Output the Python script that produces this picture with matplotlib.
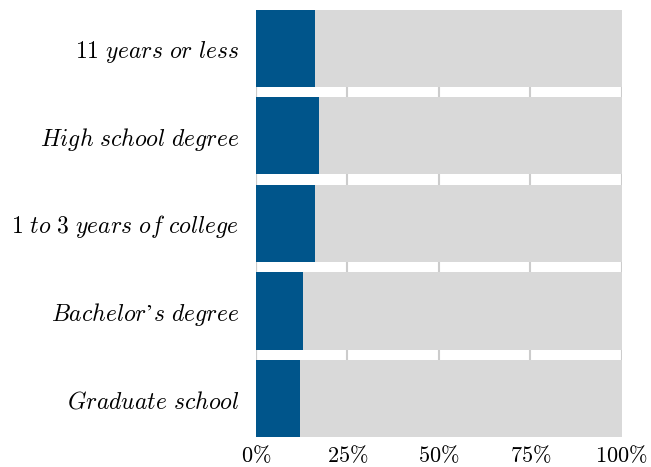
import matplotlib
matplotlib.use("Agg")
import matplotlib.pyplot as plt
from matplotlib.ticker import FuncFormatter

plt.rcParams['mathtext.fontset'] = 'cm'

# nivel educativo y porcentaje (parte azul)
categories = ["11 years or less", "High school degree", "1 to 3 years of college",
              "Bachelor’s degree", "Graduate school"]
values = [16.1, 17.2, 16.1, 12.8, 12.0]
total = [100, 100, 100, 100, 100]
xticks = [0, 25, 50, 75, 100]


def as_italic(s):
    # texto en cursiva estilo LaTeX
    s = s.replace(" ", r"\ ")
    return r"$\mathit{" + s + "}$"


fig = plt.figure(figsize=(6.51, 4.67), dpi=100)
ax = fig.add_axes([0.393, 0.064, 0.562, 0.915])

ypos = list(range(len(categories)))[::-1]
ax.barh(ypos, total, height=0.88, color="#d9d9d9", zorder=2)
ax.barh(ypos, values, height=0.88, color="#00558b", zorder=3)

ax.set_xlim(0, 100)
ax.set_ylim(-0.44, 4.44)
ax.set_xticks(xticks)
ax.xaxis.set_major_formatter(FuncFormatter(lambda v, p: r"$\mathit{%d\%%}$" % v))
ax.set_yticks(ypos)
ax.set_yticklabels([as_italic(c) for c in categories])

ax.grid(axis="x", color="#cccccc", linewidth=1.5, zorder=1)
ax.axvline(0, color="#cccccc", linewidth=1.5, zorder=1)
for s in ax.spines.values():
    s.set_visible(False)
ax.tick_params(axis="both", length=0)
ax.tick_params(axis="y", pad=12, labelsize=17)
ax.tick_params(axis="x", pad=5, labelsize=16)

fig.savefig("out.png", dpi=100)
